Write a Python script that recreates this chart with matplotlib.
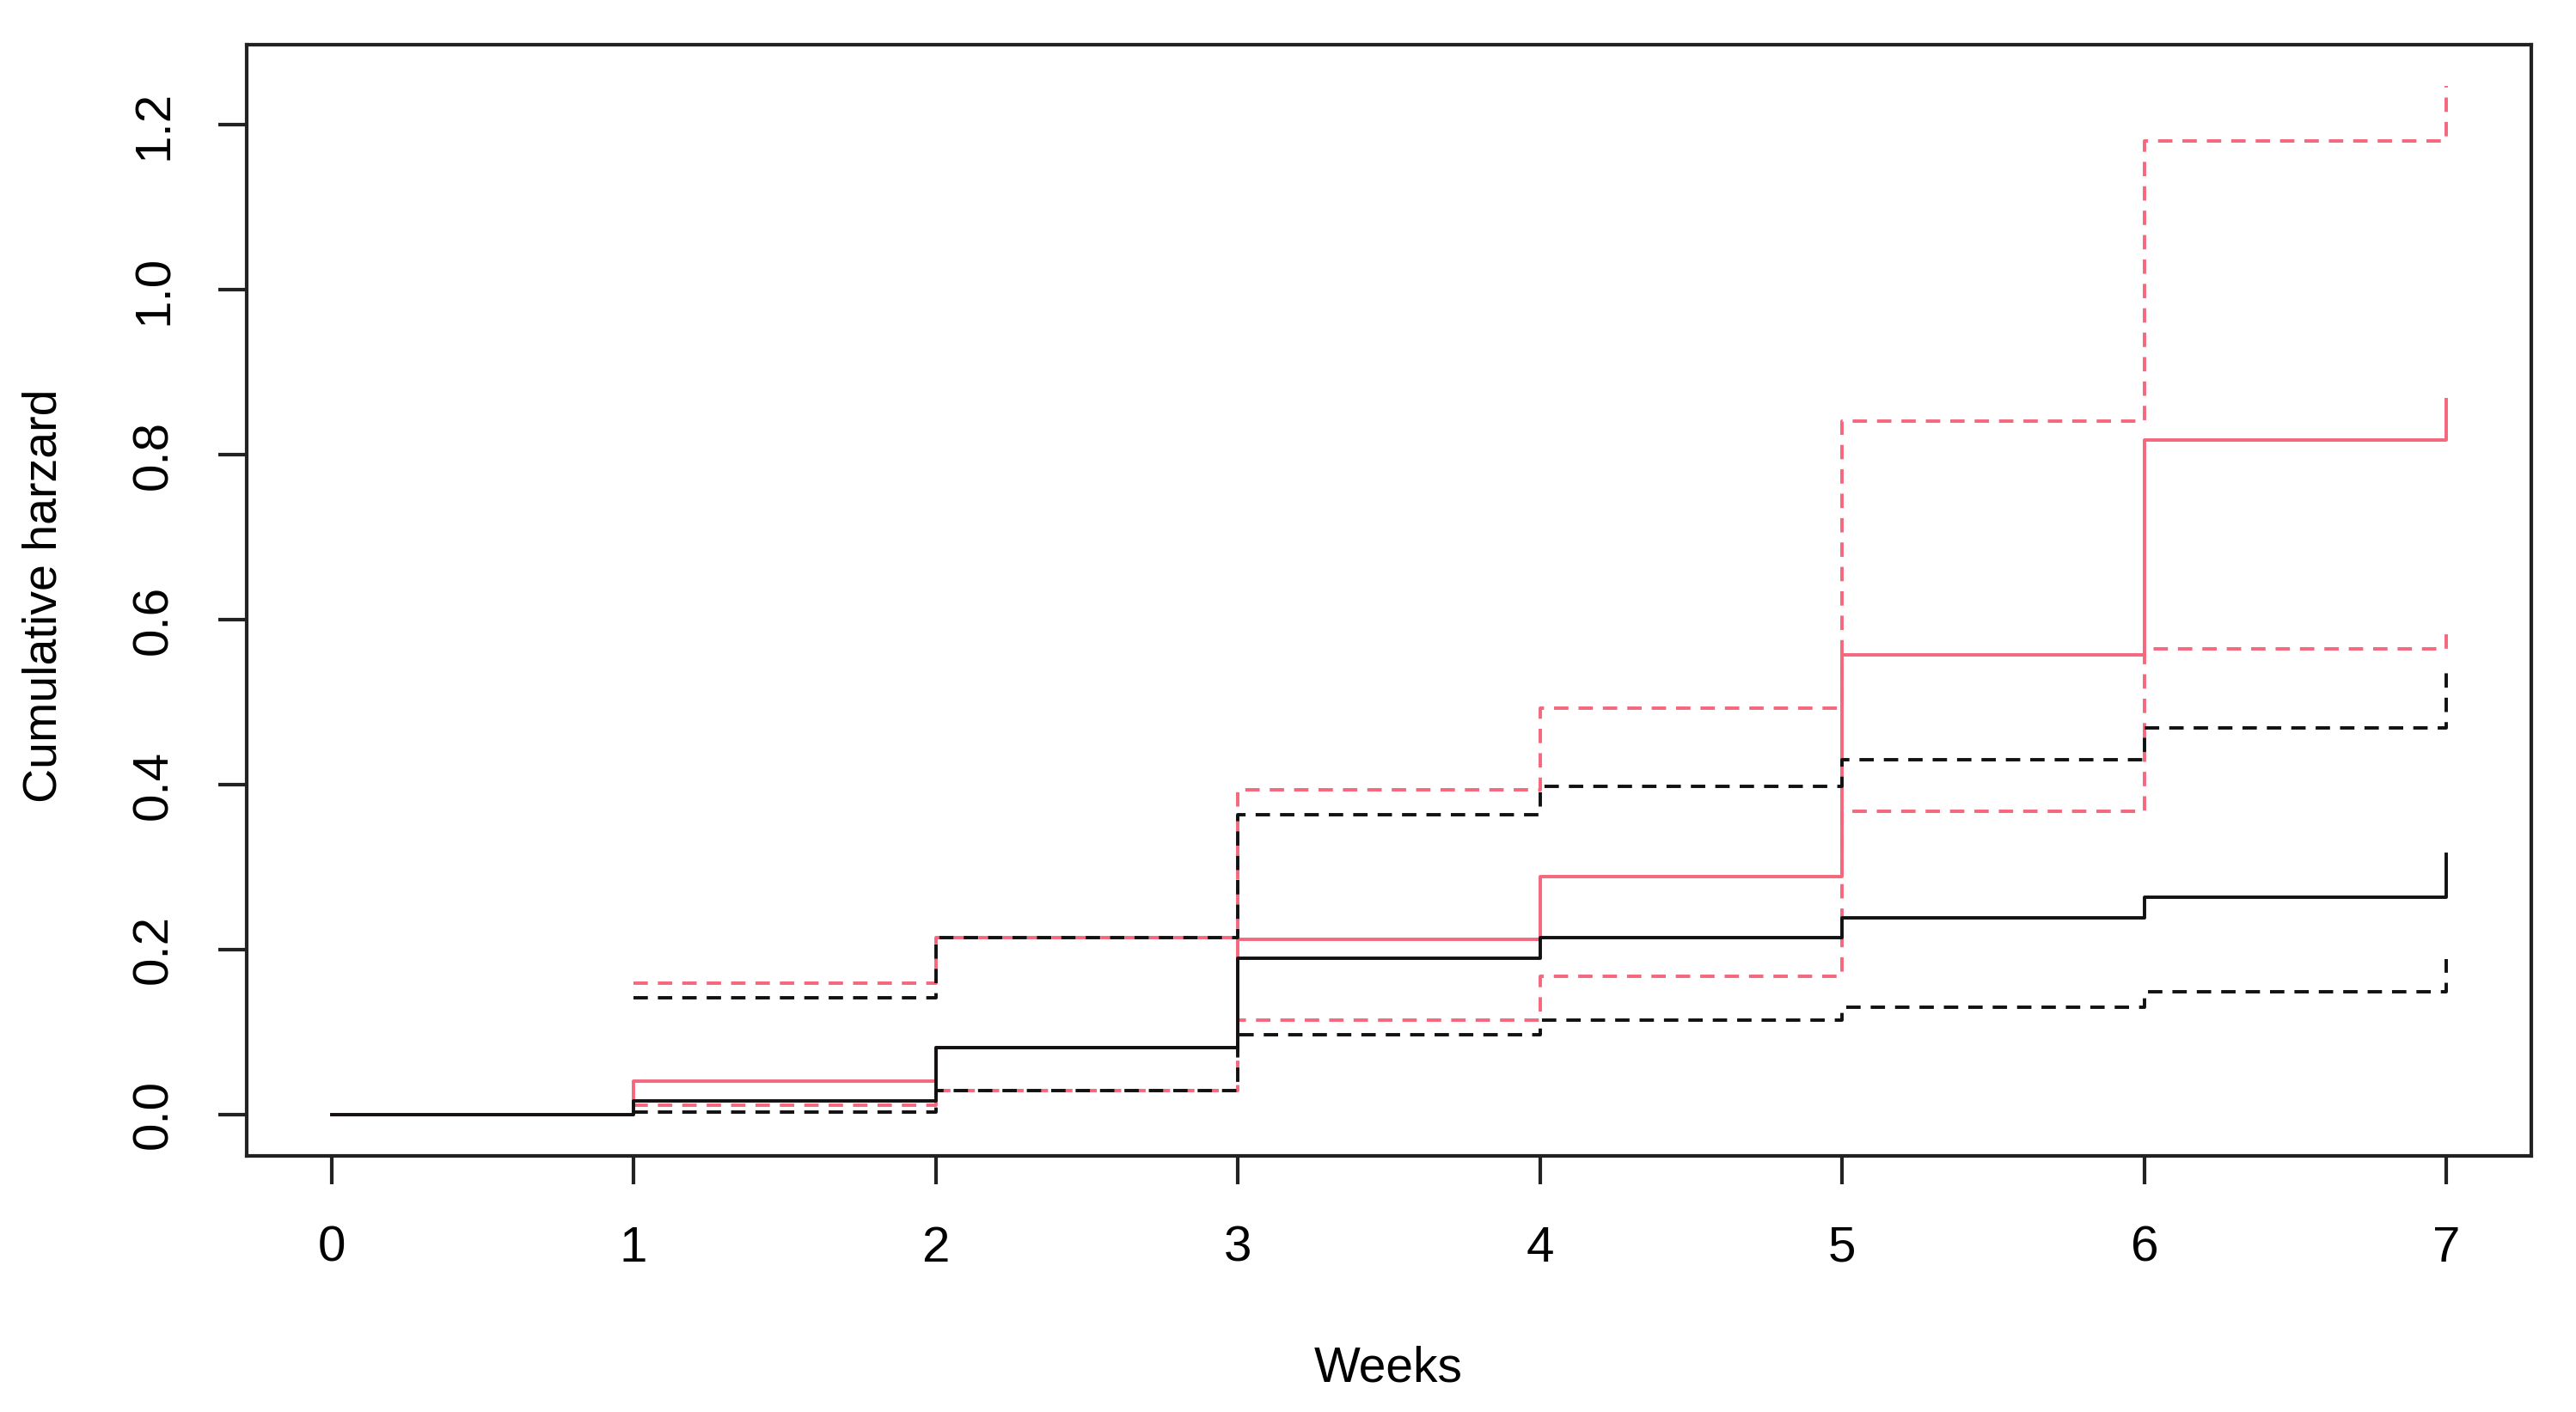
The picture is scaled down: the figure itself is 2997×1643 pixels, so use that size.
import matplotlib
matplotlib.use("Agg")
import matplotlib.pyplot as plt

plt.rcParams['font.family'] = ['Liberation Sans', 'DejaVu Sans']

# step values (cumulative hazard by week)
weeks = [0, 1, 2, 3, 4, 5, 6, 7]
weeks_ci = [1, 2, 3, 4, 5, 6, 7]

black_est = [0, 0.017, 0.081, 0.190, 0.215, 0.239, 0.264, 0.316]
black_upper = [0.142, 0.215, 0.364, 0.398, 0.430, 0.469, 0.540]
black_lower = [0.003, 0.029, 0.097, 0.115, 0.130, 0.149, 0.188]

red_est = [0, 0.041, 0.081, 0.212, 0.288, 0.557, 0.818, 0.867]
red_upper = [0.159, 0.215, 0.394, 0.493, 0.841, 1.180, 1.247]
red_lower = [0.011, 0.029, 0.115, 0.168, 0.368, 0.565, 0.594]

x_ticks = [0, 1, 2, 3, 4, 5, 6, 7]
y_ticks = [0.0, 0.2, 0.4, 0.6, 0.8, 1.0, 1.2]
y_labels = ["0.0", "0.2", "0.4", "0.6", "0.8", "1.0", "1.2"]

red = "#F5677D"
frame = "#222222"
lw = 2.8
dash = (0, (4.3, 3.0))

fig = plt.figure(figsize=(29.97, 16.43), dpi=100)
ax = fig.add_axes([0.0958, 0.1814, 0.8868, 0.787])

ax.plot(weeks, red_est, drawstyle="steps-post", color=red, lw=lw)
ax.plot(weeks_ci, red_upper, drawstyle="steps-post", color=red, lw=lw, linestyle=dash)
ax.plot(weeks_ci, red_lower, drawstyle="steps-post", color=red, lw=lw, linestyle=dash)

ax.plot(weeks, black_est, drawstyle="steps-post", color="#111111", lw=lw)
ax.plot(weeks_ci, black_upper, drawstyle="steps-post", color="#111111", lw=lw, linestyle=dash)
ax.plot(weeks_ci, black_lower, drawstyle="steps-post", color="#111111", lw=lw, linestyle=dash)

ax.set_xlim(-0.28, 7.28)
ax.set_ylim(-0.05, 1.297)

ax.set_xticks(x_ticks)
ax.set_xticklabels([str(t) for t in x_ticks])
ax.set_yticks(y_ticks)
ax.set_yticklabels(y_labels, rotation=90, va="center")

for sp in ax.spines.values():
    sp.set_linewidth(3.0)
    sp.set_color(frame)
ax.tick_params(axis="both", length=24, width=3.0, color=frame, labelsize=42, pad=34)

fig.text(0.539, 0.0219, "Weeks", fontsize=41, ha="center", va="baseline")
fig.text(51 / 2997, 0.578, "Cumulative harzard", fontsize=40, rotation=90,
         ha="center", va="center")

fig.savefig("out.png", dpi=100)
